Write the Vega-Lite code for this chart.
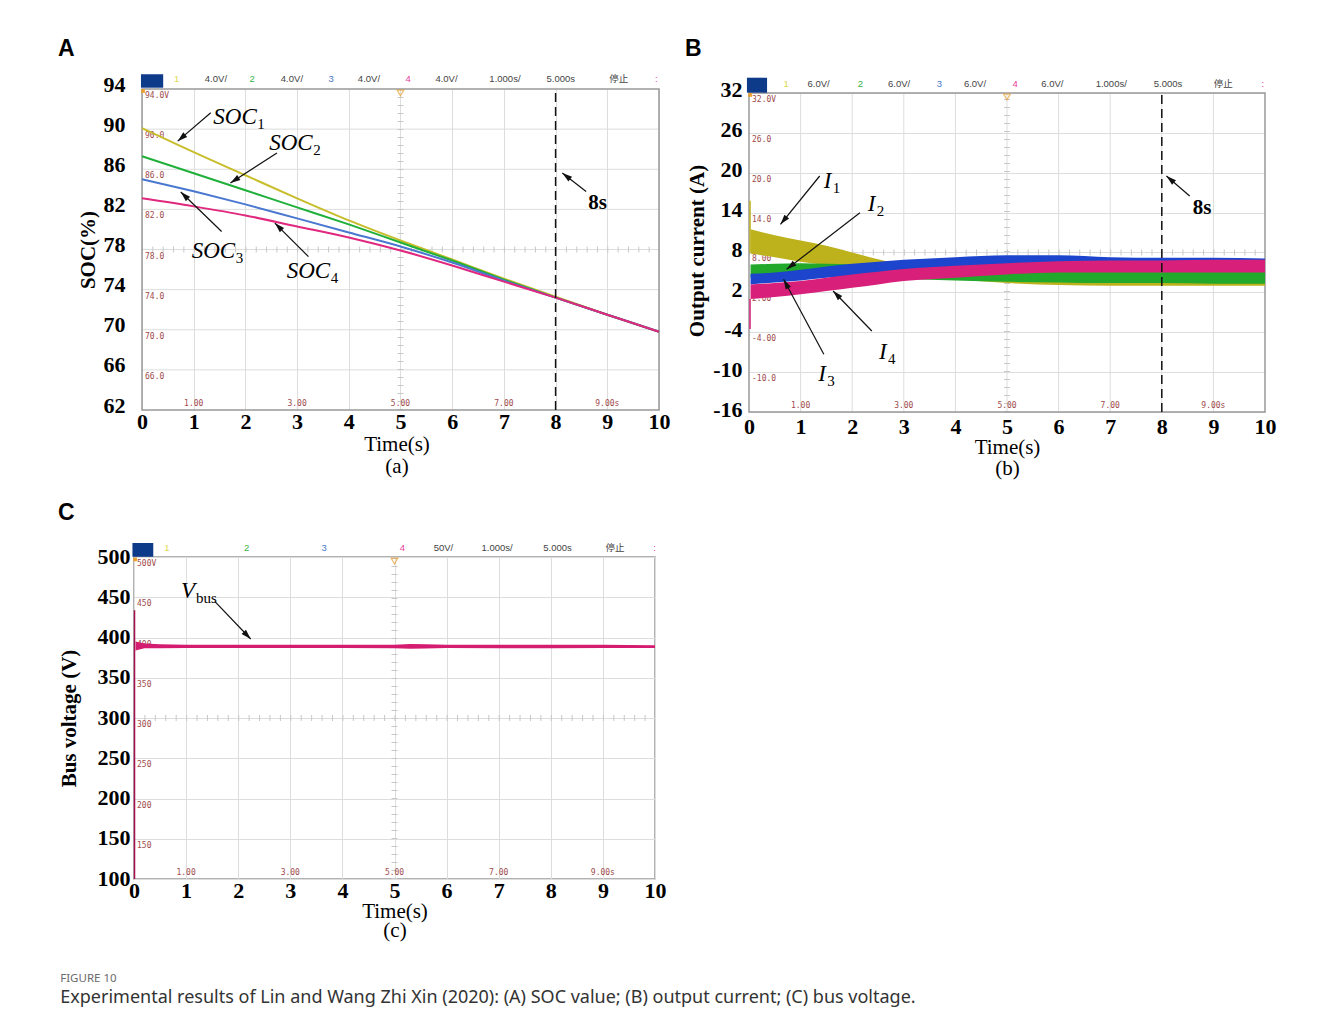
{
  "$schema": "https://vega.github.io/schema/vega-lite/v6.json",
  "background": "white",
  "padding": {"left": 57, "top": 37, "right": 10, "bottom": 10},
  "config": {
    "view": {"stroke": "#999999", "strokeWidth": 1.5},
    "axis": {"domain": false, "ticks": false, "grid": true, "gridColor": "#dddddd", "gridWidth": 1, "labelFont": "Liberation Serif", "labelFontSize": 22, "labelFontWeight": "bold", "labelColor": "#000000", "labelFlush": false, "labelOverlap": false, "titleFont": "Liberation Serif", "titleFontSize": 21, "titleColor": "#000000"},
    "axisX": {"titleFontWeight": "normal"},
    "axisY": {"titleFontWeight": "bold"},
    "text": {"font": "Liberation Serif"}
  },
  "title": {"text": "FIGURE 10", "subtitle": "Experimental results of Lin and Wang Zhi Xin (2020): (A) SOC value; (B) output current; (C) bus voltage.", "orient": "bottom", "anchor": "start", "frame": "bounds", "dx": 3, "offset": 32, "font": "Noto Sans", "fontSize": 11.5, "fontWeight": "normal", "color": "#6a6a6a", "subtitleFont": "Noto Sans", "subtitleFontSize": 18, "subtitleColor": "#333333", "subtitlePadding": 5},
  "columns": 2,
  "align": "none",
  "spacing": {"row": 23, "column": 15},
  "concat": [
        {
          "width": 525, "height": 321,
          "view": {"stroke": null},
          "title": {"text": "A", "anchor": "start", "frame": "group", "dx": -76, "offset": -6, "baseline": "alphabetic", "font": "Liberation Sans", "fontSize": 23, "fontWeight": "bold", "color": "#000000"},
          "encoding": {
            "x": {"field": "t", "type": "quantitative", "scale": {"domain": [-0.1547, 10], "nice": false, "zero": false}, "axis": {"values": [0,1,2,3,4,5,6,7,8,9,10], "title": ["Time(s)", "(a)"], "labelPadding": 1, "titlePadding": 1, "titleLineHeight": 22}},
            "y": {"field": "v", "type": "quantitative", "scale": {"domain": [62, 94], "nice": false, "zero": false}, "axis": {"values": [62,66,70,74,78,82,86,90,94], "grid": false, "title": "SOC(%)", "labelPadding": 9, "labelOffset": -5, "titlePadding": 5}}
          },
          "layer": [
            {"data": {"values": [{"t": 0, "t2": 10, "v": 66}, {"t": 0, "t2": 10, "v": 70}, {"t": 0, "t2": 10, "v": 74}, {"t": 0, "t2": 10, "v": 78}, {"t": 0, "t2": 10, "v": 82}, {"t": 0, "t2": 10, "v": 86}, {"t": 0, "t2": 10, "v": 90}]},
             "mark": {"type": "rule", "stroke": "#dddddd", "strokeWidth": 1}, "encoding": {"x2": {"field": "t2"}}},
            {"data": {"values": [{"t": 5, "v": 62, "v2": 94}]}, "mark": {"type": "rule", "stroke": "#c8c8c8", "strokeWidth": 6, "strokeDash": [1, 7]}, "encoding": {"y2": {"field": "v2"}}},
            {"data": {"values": [{"t": 0, "t2": 10, "v": 78}]}, "mark": {"type": "rule", "stroke": "#c8c8c8", "strokeWidth": 6, "strokeDash": [1, 9.34]}, "encoding": {"x2": {"field": "t2"}}},
            {"data": {"values": [{"t": 0, "t2": 10, "v": 62, "v2": 94}]}, "mark": {"type": "rect", "fill": null, "fillOpacity": 0, "stroke": "#999999", "strokeWidth": 1.5}, "encoding": {"x2": {"field": "t2"}, "y2": {"field": "v2"}}},
            {"data": {"values": [{"t": 0, "v": 94, "lab": "94.0V"}, {"t": 0, "v": 90, "lab": "90.0"}, {"t": 0, "v": 86, "lab": "86.0"}, {"t": 0, "v": 82, "lab": "82.0"}, {"t": 0, "v": 78, "lab": "78.0"}, {"t": 0, "v": 74, "lab": "74.0"}, {"t": 0, "v": 70, "lab": "70.0"}, {"t": 0, "v": 66, "lab": "66.0"}]},
             "mark": {"type": "text", "align": "left", "baseline": "top", "dx": 3, "dy": 3, "font": "DejaVu Sans Mono", "fontSize": 8, "fill": "#a04a4a"}, "encoding": {"text": {"field": "lab"}}},
            {"data": {"values": [{"t": 1, "v": 62, "lab": "1.00"}, {"t": 3, "v": 62, "lab": "3.00"}, {"t": 5, "v": 62, "lab": "5.00"}, {"t": 7, "v": 62, "lab": "7.00"}, {"t": 9, "v": 62, "lab": "9.00s"}]},
             "mark": {"type": "text", "align": "center", "baseline": "bottom", "dy": -2, "font": "DejaVu Sans Mono", "fontSize": 8, "fill": "#a04a4a"}, "encoding": {"text": {"field": "lab"}}},
            {"data": {"values": [
              {"s": "SOC1", "t": 0, "v": 90.1}, {"s": "SOC1", "t": 0.5, "v": 88.9}, {"s": "SOC1", "t": 1, "v": 87.7}, {"s": "SOC1", "t": 2, "v": 85.4}, {"s": "SOC1", "t": 3, "v": 83.1}, {"s": "SOC1", "t": 4, "v": 80.9}, {"s": "SOC1", "t": 5, "v": 78.9}, {"s": "SOC1", "t": 6, "v": 77.0}, {"s": "SOC1", "t": 7, "v": 75.1}, {"s": "SOC1", "t": 8, "v": 73.3}, {"s": "SOC1", "t": 9, "v": 71.5}, {"s": "SOC1", "t": 10, "v": 69.8},
              {"s": "SOC2", "t": 0, "v": 87.3}, {"s": "SOC2", "t": 1, "v": 85.6}, {"s": "SOC2", "t": 2, "v": 83.9}, {"s": "SOC2", "t": 3, "v": 82.2}, {"s": "SOC2", "t": 4, "v": 80.5}, {"s": "SOC2", "t": 5, "v": 78.7}, {"s": "SOC2", "t": 6, "v": 76.9}, {"s": "SOC2", "t": 7, "v": 75.0}, {"s": "SOC2", "t": 8, "v": 73.2}, {"s": "SOC2", "t": 9, "v": 71.5}, {"s": "SOC2", "t": 10, "v": 69.8},
              {"s": "SOC3", "t": 0, "v": 85.0}, {"s": "SOC3", "t": 1, "v": 83.8}, {"s": "SOC3", "t": 2, "v": 82.5}, {"s": "SOC3", "t": 3, "v": 81.1}, {"s": "SOC3", "t": 4, "v": 79.7}, {"s": "SOC3", "t": 5, "v": 78.3}, {"s": "SOC3", "t": 6, "v": 76.7}, {"s": "SOC3", "t": 7, "v": 74.9}, {"s": "SOC3", "t": 8, "v": 73.2}, {"s": "SOC3", "t": 9, "v": 71.5}, {"s": "SOC3", "t": 10, "v": 69.8},
              {"s": "SOC4", "t": 0, "v": 83.1}, {"s": "SOC4", "t": 1, "v": 82.3}, {"s": "SOC4", "t": 2, "v": 81.4}, {"s": "SOC4", "t": 3, "v": 80.3}, {"s": "SOC4", "t": 4, "v": 79.2}, {"s": "SOC4", "t": 5, "v": 77.9}, {"s": "SOC4", "t": 6, "v": 76.4}, {"s": "SOC4", "t": 7, "v": 74.8}, {"s": "SOC4", "t": 8, "v": 73.2}, {"s": "SOC4", "t": 9, "v": 71.5}, {"s": "SOC4", "t": 10, "v": 69.8}
            ]},
             "mark": {"type": "line", "strokeWidth": 2, "interpolate": "monotone"},
             "encoding": {"stroke": {"field": "s", "type": "nominal", "scale": {"domain": ["SOC1", "SOC2", "SOC3", "SOC4"], "range": ["#c8bd2a", "#1fb03a", "#4a78d0", "#e0287e"]}, "legend": null}}},
            {"data": {"values": [{"t": 8, "v": 62, "v2": 94}]}, "mark": {"type": "rule", "stroke": "#111111", "strokeWidth": 1.5, "strokeDash": [9, 5]}, "encoding": {"y2": {"field": "v2"}}},
            {"data": {"values": [{"t": 1.33, "v": 91.63, "t2": 0.69, "v2": 88.8}, {"t": 2.61, "v": 87.63, "t2": 1.71, "v2": 84.63}, {"t": 1.54, "v": 79.79, "t2": 0.75, "v2": 83.73}, {"t": 3.22, "v": 77.29, "t2": 2.57, "v2": 80.63}, {"t": 8.59, "v": 83.79, "t2": 8.13, "v2": 85.62}]},
             "mark": {"type": "rule", "stroke": "#111111", "strokeWidth": 1.2}, "encoding": {"x2": {"field": "t2"}, "y2": {"field": "v2"}}},
            {"data": {"values": [{"t": 1.33, "v": 91.63, "t2": 0.69, "v2": 88.8}, {"t": 2.61, "v": 87.63, "t2": 1.71, "v2": 84.63}, {"t": 1.54, "v": 79.79, "t2": 0.75, "v2": 83.73}, {"t": 3.22, "v": 77.29, "t2": 2.57, "v2": 80.63}, {"t": 8.59, "v": 83.79, "t2": 8.13, "v2": 85.62}]},
             "transform": [{"calculate": "atan2((datum.t2 - datum.t) * 51.7, (datum.v2 - datum.v) * 10.03) * 180 / PI", "as": "ang"}],
             "mark": {"type": "point", "shape": "M0,0L-0.6,2L0.6,2Z", "filled": true, "fill": "#111111", "strokeWidth": 0, "size": 100, "opacity": 1},
             "encoding": {"x": {"field": "t2", "type": "quantitative"}, "y": {"field": "v2", "type": "quantitative"}, "angle": {"field": "ang", "type": "quantitative", "scale": null}}},
            {"data": {"values": [{"t": 1.38, "v": 90.51, "main": "SOC", "sub": "1"}, {"t": 2.46, "v": 87.96, "main": "SOC", "sub": "2"}, {"t": 0.96, "v": 77.12, "main": "SOC", "sub": "3"}, {"t": 2.8, "v": 75.19, "main": "SOC", "sub": "4"}]},
             "mark": {"type": "text", "align": "left", "baseline": "alphabetic", "fontStyle": "italic", "fontSize": 23, "fill": "#000000"}, "encoding": {"text": {"field": "main"}}},
            {"data": {"values": [{"t": 1.38, "v": 90.51, "main": "SOC", "sub": "1"}, {"t": 2.46, "v": 87.96, "main": "SOC", "sub": "2"}, {"t": 0.96, "v": 77.12, "main": "SOC", "sub": "3"}, {"t": 2.8, "v": 75.19, "main": "SOC", "sub": "4"}]},
             "mark": {"type": "text", "align": "left", "baseline": "alphabetic", "fontSize": 15, "dx": 44, "dy": 5, "fill": "#000000"}, "encoding": {"text": {"field": "sub"}}},
            {"data": {"values": [{"t": 8.63, "v": 82.04, "lab": "8s"}]},
             "mark": {"type": "text", "align": "left", "baseline": "alphabetic", "fontSize": 21, "fontWeight": "bold", "fill": "#000000"}, "encoding": {"text": {"field": "lab"}}},
            {"data": {"values": [{"t": -0.02, "t2": 0.41, "v": 94.13, "v2": 95.47}]},
             "mark": {"type": "rect", "fill": "#0e3a8a"}, "encoding": {"x2": {"field": "t2"}, "y2": {"field": "v2"}}},
            {"data": {"values": [{"t": 0.67, "v": 94.95, "lab": "1", "ch": "y"}, {"t": 1.43, "v": 94.95, "lab": "4.0V/", "ch": "k"}, {"t": 2.13, "v": 94.95, "lab": "2", "ch": "g"}, {"t": 2.9, "v": 94.95, "lab": "4.0V/", "ch": "k"}, {"t": 3.66, "v": 94.95, "lab": "3", "ch": "b"}, {"t": 4.39, "v": 94.95, "lab": "4.0V/", "ch": "k"}, {"t": 5.15, "v": 94.95, "lab": "4", "ch": "p"}, {"t": 5.89, "v": 94.95, "lab": "4.0V/", "ch": "k"}, {"t": 7.02, "v": 94.95, "lab": "1.000s/", "ch": "k"}, {"t": 8.1, "v": 94.95, "lab": "5.000s", "ch": "k"}, {"t": 9.22, "v": 94.95, "lab": "停止", "ch": "k"}, {"t": 9.95, "v": 94.95, "lab": ":", "ch": "p"}]},
             "mark": {"type": "text", "align": "center", "baseline": "middle", "font": "Liberation Sans, Noto Sans CJK SC", "fontSize": 9.5},
             "encoding": {"text": {"field": "lab"}, "fill": {"field": "ch", "type": "nominal", "scale": {"domain": ["y", "g", "b", "p", "k"], "range": ["#e0d84a", "#39b54a", "#4a78c8", "#e83e9a", "#444444"]}, "legend": null}}},
            {"data": {"values": [{"t": 5, "v": 93.6}]}, "mark": {"type": "point", "shape": "triangle-down", "stroke": "#e8a030", "filled": false, "size": 45, "strokeWidth": 1.2}},
            {"data": {"values": [{"t": 0.02, "v": 93.8}]}, "mark": {"type": "point", "shape": "square", "fill": "#e8a030", "filled": true, "size": 14, "opacity": 1}}
          ]
        },
        {
          "width": 516, "height": 323,
          "view": {"stroke": null},
          "title": {"text": "B", "anchor": "start", "frame": "group", "dx": -64, "offset": -1, "baseline": "alphabetic", "font": "Liberation Sans", "fontSize": 23, "fontWeight": "bold", "color": "#000000"},
          "encoding": {
            "x": {"field": "t", "type": "quantitative", "scale": {"domain": [0, 10], "nice": false, "zero": false}, "axis": {"values": [0,1,2,3,4,5,6,7,8,9,10], "grid": false, "title": ["Time(s)", "(b)"], "labelPadding": 4, "titlePadding": -1, "titleLineHeight": 21}},
            "y": {"field": "v", "type": "quantitative", "scale": {"domain": [-16, 32.6], "nice": false, "zero": false}, "axis": {"values": [-16,-10,-4,2,8,14,20,26,32], "labelExpr": "datum.value < 0 ? '-' + abs(datum.value) : '' + datum.value", "title": "Output current (A)", "labelPadding": 7, "labelOffset": -3, "titlePadding": 5}}
          },
          "layer": [
            {"data": {"values": [{"t": 1, "v": -16, "v2": 32}, {"t": 2, "v": -16, "v2": 32}, {"t": 3, "v": -16, "v2": 32}, {"t": 4, "v": -16, "v2": 32}, {"t": 5, "v": -16, "v2": 32}, {"t": 6, "v": -16, "v2": 32}, {"t": 7, "v": -16, "v2": 32}, {"t": 8, "v": -16, "v2": 32}, {"t": 9, "v": -16, "v2": 32}]},
             "mark": {"type": "rule", "stroke": "#dddddd", "strokeWidth": 1}, "encoding": {"y2": {"field": "v2"}}},
            {"data": {"values": [{"t": 5, "v": -16, "v2": 32}]}, "mark": {"type": "rule", "stroke": "#c8c8c8", "strokeWidth": 6, "strokeDash": [1, 7]}, "encoding": {"y2": {"field": "v2"}}},
            {"data": {"values": [{"t": 0, "t2": 10, "v": 8}]}, "mark": {"type": "rule", "stroke": "#c8c8c8", "strokeWidth": 6, "strokeDash": [1, 9.32]}, "encoding": {"x2": {"field": "t2"}}},
            {"data": {"values": [{"t": 0, "t2": 10, "v": -16, "v2": 32}]}, "mark": {"type": "rect", "fill": null, "fillOpacity": 0, "stroke": "#999999", "strokeWidth": 1.5}, "encoding": {"x2": {"field": "t2"}, "y2": {"field": "v2"}}},
            {"data": {"values": [{"t": 0, "v": 32, "lab": "32.0V"}, {"t": 0, "v": 26, "lab": "26.0"}, {"t": 0, "v": 20, "lab": "20.0"}, {"t": 0, "v": 14, "lab": "14.0"}, {"t": 0, "v": 8, "lab": "8.00"}, {"t": 0, "v": 2, "lab": "2.00"}, {"t": 0, "v": -4, "lab": "-4.00"}, {"t": 0, "v": -10, "lab": "-10.0"}]},
             "mark": {"type": "text", "align": "left", "baseline": "top", "dx": 3, "dy": 3, "font": "DejaVu Sans Mono", "fontSize": 8, "fill": "#a04a4a"}, "encoding": {"text": {"field": "lab"}}},
            {"data": {"values": [{"t": 1, "v": -16, "lab": "1.00"}, {"t": 3, "v": -16, "lab": "3.00"}, {"t": 5, "v": -16, "lab": "5.00"}, {"t": 7, "v": -16, "lab": "7.00"}, {"t": 9, "v": -16, "lab": "9.00s"}]},
             "mark": {"type": "text", "align": "center", "baseline": "bottom", "dy": -2, "font": "DejaVu Sans Mono", "fontSize": 8, "fill": "#a04a4a"}, "encoding": {"text": {"field": "lab"}}},
            {"data": {"values": [
              {"s": "I1", "t": 0.03, "v": 11.5, "v2": 7.8}, {"s": "I1", "t": 0.5, "v": 10.6, "v2": 7.3}, {"s": "I1", "t": 1, "v": 9.8, "v2": 6.6}, {"s": "I1", "t": 1.5, "v": 9.0, "v2": 6.1}, {"s": "I1", "t": 2, "v": 8.0, "v2": 5.7}, {"s": "I1", "t": 2.5, "v": 7.0, "v2": 5.3}, {"s": "I1", "t": 3, "v": 6.2, "v2": 4.8}, {"s": "I1", "t": 4, "v": 5.6, "v2": 4.0}, {"s": "I1", "t": 5, "v": 5.5, "v2": 3.4}, {"s": "I1", "t": 6, "v": 5.5, "v2": 3.1}, {"s": "I1", "t": 7, "v": 5.5, "v2": 3.0}, {"s": "I1", "t": 8, "v": 5.5, "v2": 3.0}, {"s": "I1", "t": 9, "v": 5.5, "v2": 3.0}, {"s": "I1", "t": 10, "v": 5.5, "v2": 3.0},
              {"s": "I2", "t": 0.03, "v": 6.2, "v2": 4.2}, {"s": "I2", "t": 0.5, "v": 6.3, "v2": 4.4}, {"s": "I2", "t": 1, "v": 6.4, "v2": 4.5}, {"s": "I2", "t": 1.5, "v": 6.3, "v2": 4.5}, {"s": "I2", "t": 2, "v": 6.2, "v2": 4.4}, {"s": "I2", "t": 2.5, "v": 6.0, "v2": 4.2}, {"s": "I2", "t": 3, "v": 5.8, "v2": 4.0}, {"s": "I2", "t": 4, "v": 5.6, "v2": 3.8}, {"s": "I2", "t": 5, "v": 5.4, "v2": 3.6}, {"s": "I2", "t": 6, "v": 5.3, "v2": 3.5}, {"s": "I2", "t": 7, "v": 5.2, "v2": 3.4}, {"s": "I2", "t": 8, "v": 5.2, "v2": 3.4}, {"s": "I2", "t": 9, "v": 5.2, "v2": 3.3}, {"s": "I2", "t": 10, "v": 5.2, "v2": 3.3},
              {"s": "I3", "t": 0.03, "v": 4.8, "v2": 3.2}, {"s": "I3", "t": 0.5, "v": 5.0, "v2": 3.5}, {"s": "I3", "t": 1, "v": 5.4, "v2": 3.8}, {"s": "I3", "t": 1.5, "v": 5.9, "v2": 4.2}, {"s": "I3", "t": 2, "v": 6.3, "v2": 4.5}, {"s": "I3", "t": 2.5, "v": 6.6, "v2": 4.7}, {"s": "I3", "t": 3, "v": 6.9, "v2": 4.9}, {"s": "I3", "t": 4, "v": 7.3, "v2": 5.2}, {"s": "I3", "t": 5, "v": 7.6, "v2": 5.5}, {"s": "I3", "t": 6, "v": 7.6, "v2": 5.6}, {"s": "I3", "t": 7, "v": 7.3, "v2": 5.5}, {"s": "I3", "t": 8, "v": 7.2, "v2": 5.5}, {"s": "I3", "t": 9, "v": 7.2, "v2": 5.5}, {"s": "I3", "t": 10, "v": 7.1, "v2": 5.4},
              {"s": "I4", "t": 0.03, "v": 3.2, "v2": 1.0}, {"s": "I4", "t": 0.5, "v": 3.4, "v2": 1.3}, {"s": "I4", "t": 1, "v": 3.7, "v2": 1.7}, {"s": "I4", "t": 1.5, "v": 4.2, "v2": 2.2}, {"s": "I4", "t": 2, "v": 4.7, "v2": 2.7}, {"s": "I4", "t": 2.5, "v": 5.1, "v2": 3.2}, {"s": "I4", "t": 3, "v": 5.5, "v2": 3.7}, {"s": "I4", "t": 4, "v": 6.0, "v2": 4.2}, {"s": "I4", "t": 5, "v": 6.4, "v2": 4.7}, {"s": "I4", "t": 6, "v": 6.7, "v2": 5.0}, {"s": "I4", "t": 7, "v": 6.8, "v2": 5.0}, {"s": "I4", "t": 8, "v": 6.8, "v2": 5.0}, {"s": "I4", "t": 9, "v": 6.9, "v2": 5.0}, {"s": "I4", "t": 10, "v": 6.9, "v2": 5.0}
            ]},
             "mark": {"type": "area", "opacity": 1, "interpolate": "monotone"},
             "encoding": {"y2": {"field": "v2"}, "color": {"field": "s", "type": "nominal", "scale": {"domain": ["I1", "I2", "I3", "I4"], "range": ["#bdb21c", "#22a82a", "#1c44cc", "#d8207a"]}, "legend": null}}},
            {"data": {"values": [{"s": "I1", "t": 0.02, "v": 8, "v2": 15.8}, {"s": "I4", "t": 0.02, "v": 1, "v2": -3.5}]},
             "mark": {"type": "rule", "strokeWidth": 1.5}, "encoding": {"y2": {"field": "v2"}, "color": {"field": "s", "type": "nominal", "legend": null}}},
            {"data": {"values": [{"t": 8, "v": -16, "v2": 32}]}, "mark": {"type": "rule", "stroke": "#111111", "strokeWidth": 1.5, "strokeDash": [9, 5]}, "encoding": {"y2": {"field": "v2"}}},
            {"data": {"values": [{"t": 1.37, "v": 19.51, "t2": 0.61, "v2": 12.24}, {"t": 2.15, "v": 13.99, "t2": 0.73, "v2": 5.47}, {"t": 1.45, "v": -7.32, "t2": 0.67, "v2": 3.97}, {"t": 2.38, "v": -3.81, "t2": 1.63, "v2": 2.21}, {"t": 8.54, "v": 16.5, "t2": 8.09, "v2": 19.51}]},
             "mark": {"type": "rule", "stroke": "#111111", "strokeWidth": 1.2}, "encoding": {"x2": {"field": "t2"}, "y2": {"field": "v2"}}},
            {"data": {"values": [{"t": 1.37, "v": 19.51, "t2": 0.61, "v2": 12.24}, {"t": 2.15, "v": 13.99, "t2": 0.73, "v2": 5.47}, {"t": 1.45, "v": -7.32, "t2": 0.67, "v2": 3.97}, {"t": 2.38, "v": -3.81, "t2": 1.63, "v2": 2.21}, {"t": 8.54, "v": 16.5, "t2": 8.09, "v2": 19.51}]},
             "transform": [{"calculate": "atan2((datum.t2 - datum.t) * 51.6, (datum.v2 - datum.v) * 6.646) * 180 / PI", "as": "ang"}],
             "mark": {"type": "point", "shape": "M0,0L-0.6,2L0.6,2Z", "filled": true, "fill": "#111111", "strokeWidth": 0, "size": 100, "opacity": 1},
             "encoding": {"x": {"field": "t2", "type": "quantitative"}, "y": {"field": "v2", "type": "quantitative"}, "angle": {"field": "ang", "type": "quantitative", "scale": null}}},
            {"data": {"values": [{"t": 1.45, "v": 17.75, "main": "I", "sub": "1"}, {"t": 2.3, "v": 14.24, "main": "I", "sub": "2"}, {"t": 1.34, "v": -11.33, "main": "I", "sub": "3"}, {"t": 2.52, "v": -8.02, "main": "I", "sub": "4"}]},
             "mark": {"type": "text", "align": "left", "baseline": "alphabetic", "fontStyle": "italic", "fontSize": 23, "fill": "#000000"}, "encoding": {"text": {"field": "main"}}},
            {"data": {"values": [{"t": 1.45, "v": 17.75, "main": "I", "sub": "1"}, {"t": 2.3, "v": 14.24, "main": "I", "sub": "2"}, {"t": 1.34, "v": -11.33, "main": "I", "sub": "3"}, {"t": 2.52, "v": -8.02, "main": "I", "sub": "4"}]},
             "mark": {"type": "text", "align": "left", "baseline": "alphabetic", "fontSize": 15, "dx": 9, "dy": 5, "fill": "#000000"}, "encoding": {"text": {"field": "sub"}}},
            {"data": {"values": [{"t": 8.6, "v": 13.8, "lab": "8s"}]},
             "mark": {"type": "text", "align": "left", "baseline": "alphabetic", "fontSize": 21, "fontWeight": "bold", "fill": "#000000"}, "encoding": {"text": {"field": "lab"}}},
            {"data": {"values": [{"t": -0.04, "t2": 0.35, "v": 32.05, "v2": 34.3}]},
             "mark": {"type": "rect", "fill": "#0e3a8a"}, "encoding": {"x2": {"field": "t2"}, "y2": {"field": "v2"}}},
            {"data": {"values": [{"t": 0.72, "v": 33.31, "lab": "1", "ch": "y"}, {"t": 1.35, "v": 33.31, "lab": "6.0V/", "ch": "k"}, {"t": 2.16, "v": 33.31, "lab": "2", "ch": "g"}, {"t": 2.91, "v": 33.31, "lab": "6.0V/", "ch": "k"}, {"t": 3.69, "v": 33.31, "lab": "3", "ch": "b"}, {"t": 4.38, "v": 33.31, "lab": "6.0V/", "ch": "k"}, {"t": 5.16, "v": 33.31, "lab": "4", "ch": "p"}, {"t": 5.88, "v": 33.31, "lab": "6.0V/", "ch": "k"}, {"t": 7.02, "v": 33.31, "lab": "1.000s/", "ch": "k"}, {"t": 8.12, "v": 33.31, "lab": "5.000s", "ch": "k"}, {"t": 9.19, "v": 33.31, "lab": "停止", "ch": "k"}, {"t": 9.96, "v": 33.31, "lab": ":", "ch": "p"}]},
             "mark": {"type": "text", "align": "center", "baseline": "middle", "font": "Liberation Sans, Noto Sans CJK SC", "fontSize": 9.5},
             "encoding": {"text": {"field": "lab"}, "fill": {"field": "ch", "type": "nominal", "scale": {"domain": ["y", "g", "b", "p", "k"], "range": ["#e0d84a", "#39b54a", "#4a78c8", "#e83e9a", "#444444"]}, "legend": null}}},
            {"data": {"values": [{"t": 5, "v": 31.4}]}, "mark": {"type": "point", "shape": "triangle-down", "stroke": "#e8a030", "filled": false, "size": 45, "strokeWidth": 1.2}},
            {"data": {"values": [{"t": 0.02, "v": 31.7}]}, "mark": {"type": "point", "shape": "square", "fill": "#e8a030", "filled": true, "size": 14, "opacity": 1}}
          ]
        },
    {
      "width": 521, "height": 322,
      "title": {"text": "C", "anchor": "start", "frame": "group", "dx": -76, "offset": 0, "baseline": "alphabetic", "font": "Liberation Sans", "fontSize": 23, "fontWeight": "bold", "color": "#000000"},
      "encoding": {
        "x": {"field": "t", "type": "quantitative", "scale": {"domain": [0, 10], "nice": false, "zero": false}, "axis": {"values": [0,1,2,3,4,5,6,7,8,9,10], "title": ["Time(s)", "(c)"], "labelPadding": 1, "titlePadding": -1, "titleLineHeight": 19}},
        "y": {"field": "v", "type": "quantitative", "scale": {"domain": [100, 500], "nice": false, "zero": false}, "axis": {"values": [100,150,200,250,300,350,400,450,500], "title": "Bus voltage (V)", "labelPadding": 4, "labelOffset": -1, "titlePadding": 18}}
      },
      "layer": [
        {"data": {"values": [{"t": 5, "v": 100, "v2": 500}]}, "mark": {"type": "rule", "stroke": "#c8c8c8", "strokeWidth": 6, "strokeDash": [1, 7]}, "encoding": {"y2": {"field": "v2"}}},
        {"data": {"values": [{"t": 0, "t2": 10, "v": 300}]}, "mark": {"type": "rule", "stroke": "#c8c8c8", "strokeWidth": 6, "strokeDash": [1, 9.42]}, "encoding": {"x2": {"field": "t2"}}},
        {"data": {"values": [{"t": 0, "v": 500, "lab": "500V"}, {"t": 0, "v": 450, "lab": "450"}, {"t": 0, "v": 400, "lab": "400"}, {"t": 0, "v": 350, "lab": "350"}, {"t": 0, "v": 300, "lab": "300"}, {"t": 0, "v": 250, "lab": "250"}, {"t": 0, "v": 200, "lab": "200"}, {"t": 0, "v": 150, "lab": "150"}]},
         "mark": {"type": "text", "align": "left", "baseline": "top", "dx": 3, "dy": 3, "font": "DejaVu Sans Mono", "fontSize": 8, "fill": "#a04a4a"}, "encoding": {"text": {"field": "lab"}}},
        {"data": {"values": [{"t": 1, "v": 100, "lab": "1.00"}, {"t": 3, "v": 100, "lab": "3.00"}, {"t": 5, "v": 100, "lab": "5.00"}, {"t": 7, "v": 100, "lab": "7.00"}, {"t": 9, "v": 100, "lab": "9.00s"}]},
         "mark": {"type": "text", "align": "center", "baseline": "bottom", "dy": -2, "font": "DejaVu Sans Mono", "fontSize": 8, "fill": "#a04a4a"}, "encoding": {"text": {"field": "lab"}}},
        {"data": {"values": [{"t": 0.01, "v": 100, "v2": 434}]}, "mark": {"type": "rule", "stroke": "#a3124f", "strokeWidth": 1.5}, "encoding": {"y2": {"field": "v2"}}},
        {"data": {"values": [
          {"t": 0.03, "v": 395, "v2": 384}, {"t": 0.2, "v": 392.5, "v2": 386.5}, {"t": 0.5, "v": 391.5, "v2": 386.8}, {"t": 1, "v": 391, "v2": 387}, {"t": 2, "v": 391, "v2": 387}, {"t": 3, "v": 391, "v2": 387}, {"t": 4, "v": 391, "v2": 387}, {"t": 5, "v": 391, "v2": 386.8}, {"t": 5.3, "v": 391.8, "v2": 386}, {"t": 5.6, "v": 391.5, "v2": 386.2}, {"t": 6, "v": 391, "v2": 387}, {"t": 7, "v": 391, "v2": 386.5}, {"t": 8, "v": 391, "v2": 386.5}, {"t": 9, "v": 391, "v2": 387}, {"t": 10, "v": 390.5, "v2": 387}
        ]},
         "mark": {"type": "area", "fill": "#d41c70", "opacity": 1}, "encoding": {"y2": {"field": "v2"}}},
        {"data": {"values": [{"t": 1.55, "v": 444.8, "t2": 2.24, "v2": 398.1}]},
         "mark": {"type": "rule", "stroke": "#111111", "strokeWidth": 1.2}, "encoding": {"x2": {"field": "t2"}, "y2": {"field": "v2"}}},
        {"data": {"values": [{"t": 1.55, "v": 444.8, "t2": 2.24, "v2": 398.1}]},
         "transform": [{"calculate": "atan2((datum.t2 - datum.t) * 52.1, (datum.v2 - datum.v) * 0.805) * 180 / PI", "as": "ang"}],
         "mark": {"type": "point", "shape": "M0,0L-0.6,2L0.6,2Z", "filled": true, "fill": "#111111", "strokeWidth": 0, "size": 100, "opacity": 1},
         "encoding": {"x": {"field": "t2", "type": "quantitative"}, "y": {"field": "v2", "type": "quantitative"}, "angle": {"field": "ang", "type": "quantitative", "scale": null}}},
        {"data": {"values": [{"t": 0.9, "v": 449, "main": "V", "sub": "bus"}]},
         "mark": {"type": "text", "align": "left", "baseline": "alphabetic", "fontStyle": "italic", "fontSize": 23, "fill": "#000000"}, "encoding": {"text": {"field": "main"}}},
        {"data": {"values": [{"t": 0.9, "v": 449, "main": "V", "sub": "bus"}]},
         "mark": {"type": "text", "align": "left", "baseline": "alphabetic", "fontSize": 15, "dx": 15, "dy": 5, "fill": "#000000"}, "encoding": {"text": {"field": "sub"}}},
        {"data": {"values": [{"t": -0.03, "t2": 0.37, "v": 500.3, "v2": 517.4}]},
         "mark": {"type": "rect", "fill": "#0e3a8a"}, "encoding": {"x2": {"field": "t2"}, "y2": {"field": "v2"}}},
        {"data": {"values": [{"t": 0.63, "v": 510.8, "lab": "1", "ch": "y"}, {"t": 2.16, "v": 510.8, "lab": "2", "ch": "g"}, {"t": 3.65, "v": 510.8, "lab": "3", "ch": "b"}, {"t": 5.15, "v": 510.8, "lab": "4", "ch": "p"}, {"t": 5.94, "v": 510.8, "lab": "50V/", "ch": "k"}, {"t": 6.97, "v": 510.8, "lab": "1.000s/", "ch": "k"}, {"t": 8.13, "v": 510.8, "lab": "5.000s", "ch": "k"}, {"t": 9.23, "v": 510.8, "lab": "停止", "ch": "k"}, {"t": 9.99, "v": 510.8, "lab": ":", "ch": "p"}]},
         "mark": {"type": "text", "align": "center", "baseline": "middle", "font": "Liberation Sans, Noto Sans CJK SC", "fontSize": 9.5},
         "encoding": {"text": {"field": "lab"}, "fill": {"field": "ch", "type": "nominal", "scale": {"domain": ["y", "g", "b", "p", "k"], "range": ["#e0d84a", "#39b54a", "#4a78c8", "#e83e9a", "#444444"]}, "legend": null}}},
        {"data": {"values": [{"t": 5, "v": 495}]}, "mark": {"type": "point", "shape": "triangle-down", "stroke": "#e8a030", "filled": false, "size": 45, "strokeWidth": 1.2}},
        {"data": {"values": [{"t": 0.02, "v": 497}]}, "mark": {"type": "point", "shape": "square", "fill": "#e8a030", "filled": true, "size": 14, "opacity": 1}}
      ]
    }
  ]
}
